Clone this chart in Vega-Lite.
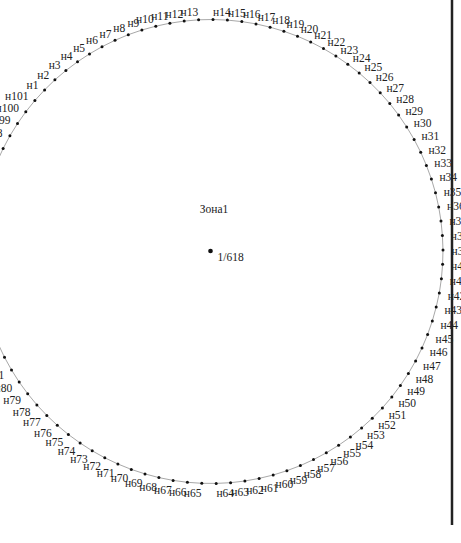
{
  "$schema": "https://vega.github.io/schema/vega-lite/v6.json",
  "width": 461,
  "height": 543,
  "autosize": {"type": "none"},
  "padding": 0,
  "background": "white",
  "config": {"view": {"stroke": null}},
  "datasets": {
    "pts": [
      {"k":1,"label":"н1","x":-166.4,"y":161.6},{"k":2,"label":"н2","x":-156.1,"y":171.7},{"k":3,"label":"н3","x":-145.1,"y":181.0},{"k":4,"label":"н4","x":-133.5,"y":189.7},{"k":5,"label":"н5","x":-121.5,"y":197.6},{"k":6,"label":"н6","x":-109.0,"y":204.8},{"k":7,"label":"н7","x":-96.0,"y":211.2},{"k":8,"label":"н8","x":-82.7,"y":216.8},{"k":9,"label":"н9","x":-69.1,"y":221.5},{"k":10,"label":"н10","x":-55.2,"y":225.3},
      {"k":11,"label":"н11","x":-41.1,"y":228.3},{"k":12,"label":"н12","x":-26.8,"y":230.4},{"k":13,"label":"н13","x":-12.4,"y":231.7},{"k":14,"label":"н14","x":2.0,"y":232.0},{"k":15,"label":"н15","x":16.4,"y":231.4},{"k":16,"label":"н16","x":30.8,"y":229.9},{"k":17,"label":"н17","x":45.0,"y":227.6},{"k":18,"label":"н18","x":59.1,"y":224.3},{"k":19,"label":"н19","x":72.9,"y":220.2},{"k":20,"label":"н20","x":86.5,"y":215.3},
      {"k":21,"label":"н21","x":99.7,"y":209.5},{"k":22,"label":"н22","x":112.5,"y":202.9},{"k":23,"label":"н23","x":124.9,"y":195.5},{"k":24,"label":"н24","x":136.8,"y":187.3},{"k":25,"label":"н25","x":148.2,"y":178.5},{"k":26,"label":"н26","x":159.0,"y":168.9},{"k":27,"label":"н27","x":169.2,"y":158.7},{"k":28,"label":"н28","x":178.8,"y":147.9},{"k":29,"label":"н29","x":187.6,"y":136.5},{"k":30,"label":"н30","x":195.7,"y":124.5},
      {"k":31,"label":"н31","x":203.1,"y":112.1},{"k":32,"label":"н32","x":209.7,"y":99.3},{"k":33,"label":"н33","x":215.4,"y":86.1},{"k":34,"label":"н34","x":220.4,"y":72.5},{"k":35,"label":"н35","x":224.5,"y":58.7},{"k":36,"label":"н36","x":227.7,"y":44.6},{"k":37,"label":"н37","x":230.0,"y":30.4},{"k":38,"label":"н38","x":231.4,"y":16.0},{"k":39,"label":"н39","x":232.0,"y":1.6},{"k":40,"label":"н40","x":231.6,"y":-12.8},
      {"k":41,"label":"н41","x":230.4,"y":-27.2},{"k":42,"label":"н42","x":228.3,"y":-41.5},{"k":43,"label":"н43","x":225.2,"y":-55.6},{"k":44,"label":"н44","x":221.3,"y":-69.5},{"k":45,"label":"н45","x":216.6,"y":-83.1},{"k":46,"label":"н46","x":211.0,"y":-96.4},{"k":47,"label":"н47","x":204.6,"y":-109.4},{"k":48,"label":"н48","x":197.4,"y":-121.9},{"k":49,"label":"н49","x":189.4,"y":-133.9},{"k":50,"label":"н50","x":180.8,"y":-145.4},
      {"k":51,"label":"н51","x":171.4,"y":-156.4},{"k":52,"label":"н52","x":161.3,"y":-166.7},{"k":53,"label":"н53","x":150.6,"y":-176.4},{"k":54,"label":"н54","x":139.4,"y":-185.5},{"k":55,"label":"н55","x":127.6,"y":-193.8},{"k":56,"label":"н56","x":115.3,"y":-201.3},{"k":57,"label":"н57","x":102.5,"y":-208.1},{"k":58,"label":"н58","x":89.4,"y":-214.1},{"k":59,"label":"н59","x":75.9,"y":-219.2},{"k":60,"label":"н60","x":62.2,"y":-223.5},
      {"k":61,"label":"н61","x":48.1,"y":-226.9},{"k":62,"label":"н62","x":33.9,"y":-229.5},{"k":63,"label":"н63","x":19.6,"y":-231.2},{"k":64,"label":"н64","x":5.2,"y":-231.9},{"k":65,"label":"н65","x":-9.2,"y":-231.8},{"k":66,"label":"н66","x":-23.6,"y":-230.8},{"k":67,"label":"н67","x":-37.9,"y":-228.9},{"k":68,"label":"н68","x":-52.1,"y":-226.1},{"k":69,"label":"н69","x":-66.0,"y":-222.4},{"k":70,"label":"н70","x":-79.7,"y":-217.9},
      {"k":71,"label":"н71","x":-93.1,"y":-212.5},{"k":72,"label":"н72","x":-106.2,"y":-206.3},{"k":73,"label":"н73","x":-118.8,"y":-199.3},{"k":74,"label":"н74","x":-130.9,"y":-191.5},{"k":75,"label":"н75","x":-142.6,"y":-183.0},{"k":76,"label":"н76","x":-153.7,"y":-173.8},{"k":77,"label":"н77","x":-164.2,"y":-163.9},{"k":78,"label":"н78","x":-174.1,"y":-153.4},{"k":79,"label":"н79","x":-183.3,"y":-142.2},{"k":80,"label":"н80","x":-191.8,"y":-130.6},
      {"k":81,"label":"н81","x":-199.5,"y":-118.4},{"k":82,"label":"н82","x":-206.5,"y":-105.8},{"k":83,"label":"н83","x":-212.7,"y":-92.7},{"k":84,"label":"н84","x":-218.0,"y":-79.3},{"k":85,"label":"н85","x":-222.5,"y":-65.6},{"k":86,"label":"н86","x":-226.2,"y":-51.7},{"k":87,"label":"н87","x":-228.9,"y":-37.5},{"k":88,"label":"н88","x":-230.8,"y":-23.2},{"k":89,"label":"н89","x":-231.8,"y":-8.8},{"k":90,"label":"н90","x":-231.9,"y":5.6},
      {"k":91,"label":"н91","x":-231.1,"y":20.0},{"k":92,"label":"н92","x":-229.4,"y":34.4},{"k":93,"label":"н93","x":-226.9,"y":48.6},{"k":94,"label":"н94","x":-223.4,"y":62.6},{"k":95,"label":"н95","x":-219.1,"y":76.3},{"k":96,"label":"н96","x":-213.9,"y":89.8},{"k":97,"label":"н97","x":-207.9,"y":102.9},{"k":98,"label":"н98","x":-201.1,"y":115.7},{"k":99,"label":"н99","x":-193.5,"y":127.9},{"k":100,"label":"н100","x":-185.2,"y":139.7},
      {"k":101,"label":"н101","x":-176.1,"y":151.0}
    ],
    "center": [{"x": -0.5, "y": 0.5, "label": "1/618"}],
    "zone": [{"x": 3, "y": 41.5, "label": "Зона1"}],
    "border": [{"x": 241, "y": 251.5, "y2": -273.5}]
  },
  "resolve": {"scale": {"x": "independent", "y": "independent"}},
  "layer": [
    {
      "data": {"name": "pts"},
      "mark": {"type": "line", "interpolate": "linear-closed", "color": "#a8a8a8", "strokeWidth": 1},
      "encoding": {
        "x": {"field": "x", "type": "quantitative", "scale": {"domain": [-211, 250], "nice": false, "zero": false}, "axis": null},
        "y": {"field": "y", "type": "quantitative", "scale": {"domain": [-291.5, 251.5], "nice": false, "zero": false}, "axis": null},
        "order": {"field": "k", "type": "quantitative"}
      }
    },
    {
      "data": {"name": "pts"},
      "mark": {"type": "circle", "color": "#111", "size": 9, "opacity": 1},
      "encoding": {
        "x": {"field": "x", "type": "quantitative", "scale": {"domain": [-211, 250], "nice": false, "zero": false}, "axis": null},
        "y": {"field": "y", "type": "quantitative", "scale": {"domain": [-291.5, 251.5], "nice": false, "zero": false}, "axis": null}
      }
    },
    {
      "data": {"name": "pts"},
      "transform": [{"filter": "datum.x < 0"}],
      "mark": {"type": "text", "align": "right", "baseline": "middle", "dy": 2, "font": "Liberation Serif", "fontSize": 11.5, "color": "#222"},
      "encoding": {
        "x": {"field": "x", "type": "quantitative", "scale": {"domain": [-203.54, 241.17], "nice": false, "zero": false}, "axis": null},
        "y": {"field": "y", "type": "quantitative", "scale": {"domain": [-281.2, 242.61], "nice": false, "zero": false}, "axis": null},
        "text": {"field": "label", "type": "nominal"}
      }
    },
    {
      "data": {"name": "pts"},
      "transform": [{"filter": "datum.x >= 0"}],
      "mark": {"type": "text", "align": "left", "baseline": "middle", "dy": 2, "font": "Liberation Serif", "fontSize": 11.5, "color": "#222"},
      "encoding": {
        "x": {"field": "x", "type": "quantitative", "scale": {"domain": [-203.54, 241.17], "nice": false, "zero": false}, "axis": null},
        "y": {"field": "y", "type": "quantitative", "scale": {"domain": [-281.2, 242.61], "nice": false, "zero": false}, "axis": null},
        "text": {"field": "label", "type": "nominal"}
      }
    },
    {
      "data": {"name": "center"},
      "mark": {"type": "circle", "color": "#111", "size": 22, "opacity": 1},
      "encoding": {
        "x": {"field": "x", "type": "quantitative", "scale": {"domain": [-211, 250], "nice": false, "zero": false}, "axis": null},
        "y": {"field": "y", "type": "quantitative", "scale": {"domain": [-291.5, 251.5], "nice": false, "zero": false}, "axis": null}
      }
    },
    {
      "data": {"name": "center"},
      "mark": {"type": "text", "align": "left", "baseline": "middle", "dx": 7, "dy": 7, "font": "Liberation Serif", "fontSize": 11.5, "color": "#222"},
      "encoding": {
        "x": {"field": "x", "type": "quantitative", "scale": {"domain": [-211, 250], "nice": false, "zero": false}, "axis": null},
        "y": {"field": "y", "type": "quantitative", "scale": {"domain": [-291.5, 251.5], "nice": false, "zero": false}, "axis": null},
        "text": {"field": "label", "type": "nominal"}
      }
    },
    {
      "data": {"name": "zone"},
      "mark": {"type": "text", "align": "center", "baseline": "middle", "font": "Liberation Serif", "fontSize": 11.5, "color": "#222"},
      "encoding": {
        "x": {"field": "x", "type": "quantitative", "scale": {"domain": [-211, 250], "nice": false, "zero": false}, "axis": null},
        "y": {"field": "y", "type": "quantitative", "scale": {"domain": [-291.5, 251.5], "nice": false, "zero": false}, "axis": null},
        "text": {"field": "label", "type": "nominal"}
      }
    },
    {
      "data": {"name": "border"},
      "mark": {"type": "rule", "color": "#222", "strokeWidth": 2.5},
      "encoding": {
        "x": {"field": "x", "type": "quantitative", "scale": {"domain": [-211, 250], "nice": false, "zero": false}, "axis": null},
        "y": {"field": "y", "type": "quantitative", "scale": {"domain": [-291.5, 251.5], "nice": false, "zero": false}, "axis": null},
        "y2": {"field": "y2"}
      }
    }
  ]
}
